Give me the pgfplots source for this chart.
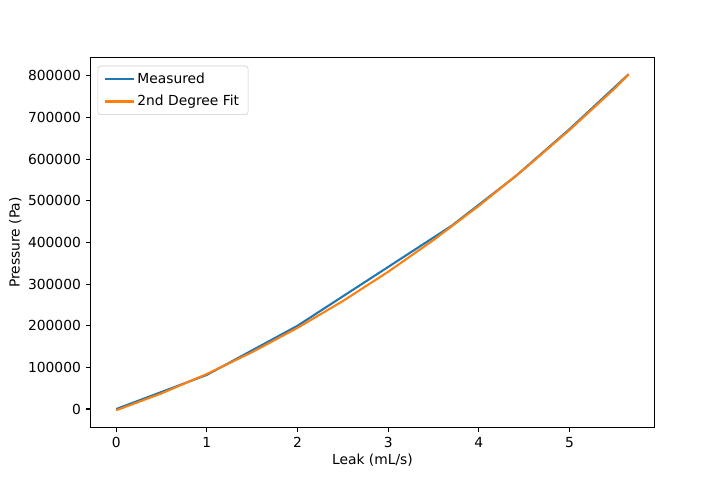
\documentclass[border=0pt]{standalone}
\usepackage{pgfplots}
\pgfplotsset{compat=1.18}
\usepackage{fontspec}
\setmainfont{DejaVu Sans}
\definecolor{C0}{HTML}{1F77B4}
\definecolor{C1}{HTML}{FF7F0E}
\begin{document}
\begin{tikzpicture}
\useasboundingbox (-0.90625in,-0.528in) rectangle (6.34375in,4.272in);
\begin{axis}[
  at={(0,0)}, anchor=south west,
  scale only axis,
  width=5.6375in, height=3.696in,
  xmin=-0.2827, xmax=5.9363,
  ymin=-43650, ymax=843800,
  axis line style={line width=0.8pt},
  tick style={line width=0.8pt, black},
  tick align=outside,
  major tick length=3.5pt,
  xtick={0,1,2,3,4,5},
  ytick={0,100000,200000,300000,400000,500000,600000,700000,800000},
  xtick pos=bottom, ytick pos=left,
  scaled y ticks=false,
  /pgf/number format/.cd, fixed, 1000 sep={}, assume math mode=true,
  /pgfplots/.cd,
  tick label style={font=\fontsize{10}{12}\selectfont},
  label style={font=\fontsize{10}{12}\selectfont},
  xlabel={Leak (mL/s)}, ylabel={Pressure (Pa)},
  xlabel style={yshift=2pt},
  ylabel style={yshift=-2pt},
  legend cell align=left,
  legend style={font=\fontsize{10}{12}\selectfont, draw=black!20, rounded corners=2pt, inner xsep=4.5pt, inner ysep=3pt, row sep=3pt, at={(0.0125,0.978)}, anchor=north west},
  legend image code/.code={\draw[#1] (0cm,0cm) -- (0.72cm,0cm);},
]
\addplot[C0, line width=1.5pt, line join=round] coordinates {
(0,0) (1,82000) (2,200000) (3.7,440000) (4.4,558000) (5.0,672000) (5.653,804000)
};
\addlegendentry{Measured}
\addplot[C1, line width=1.5pt, line join=round] coordinates {
(0,-3000) (0.5,37600) (1,84135) (1.5,136600) (2,195000) (2.5,259330) (3,329600) (3.5,405790) (4,487920) (4.5,575980) (5,669975) (5.5,769900) (5.653,803500)
};
\addlegendentry{2nd Degree Fit}
\end{axis}
\end{tikzpicture}
\end{document}
